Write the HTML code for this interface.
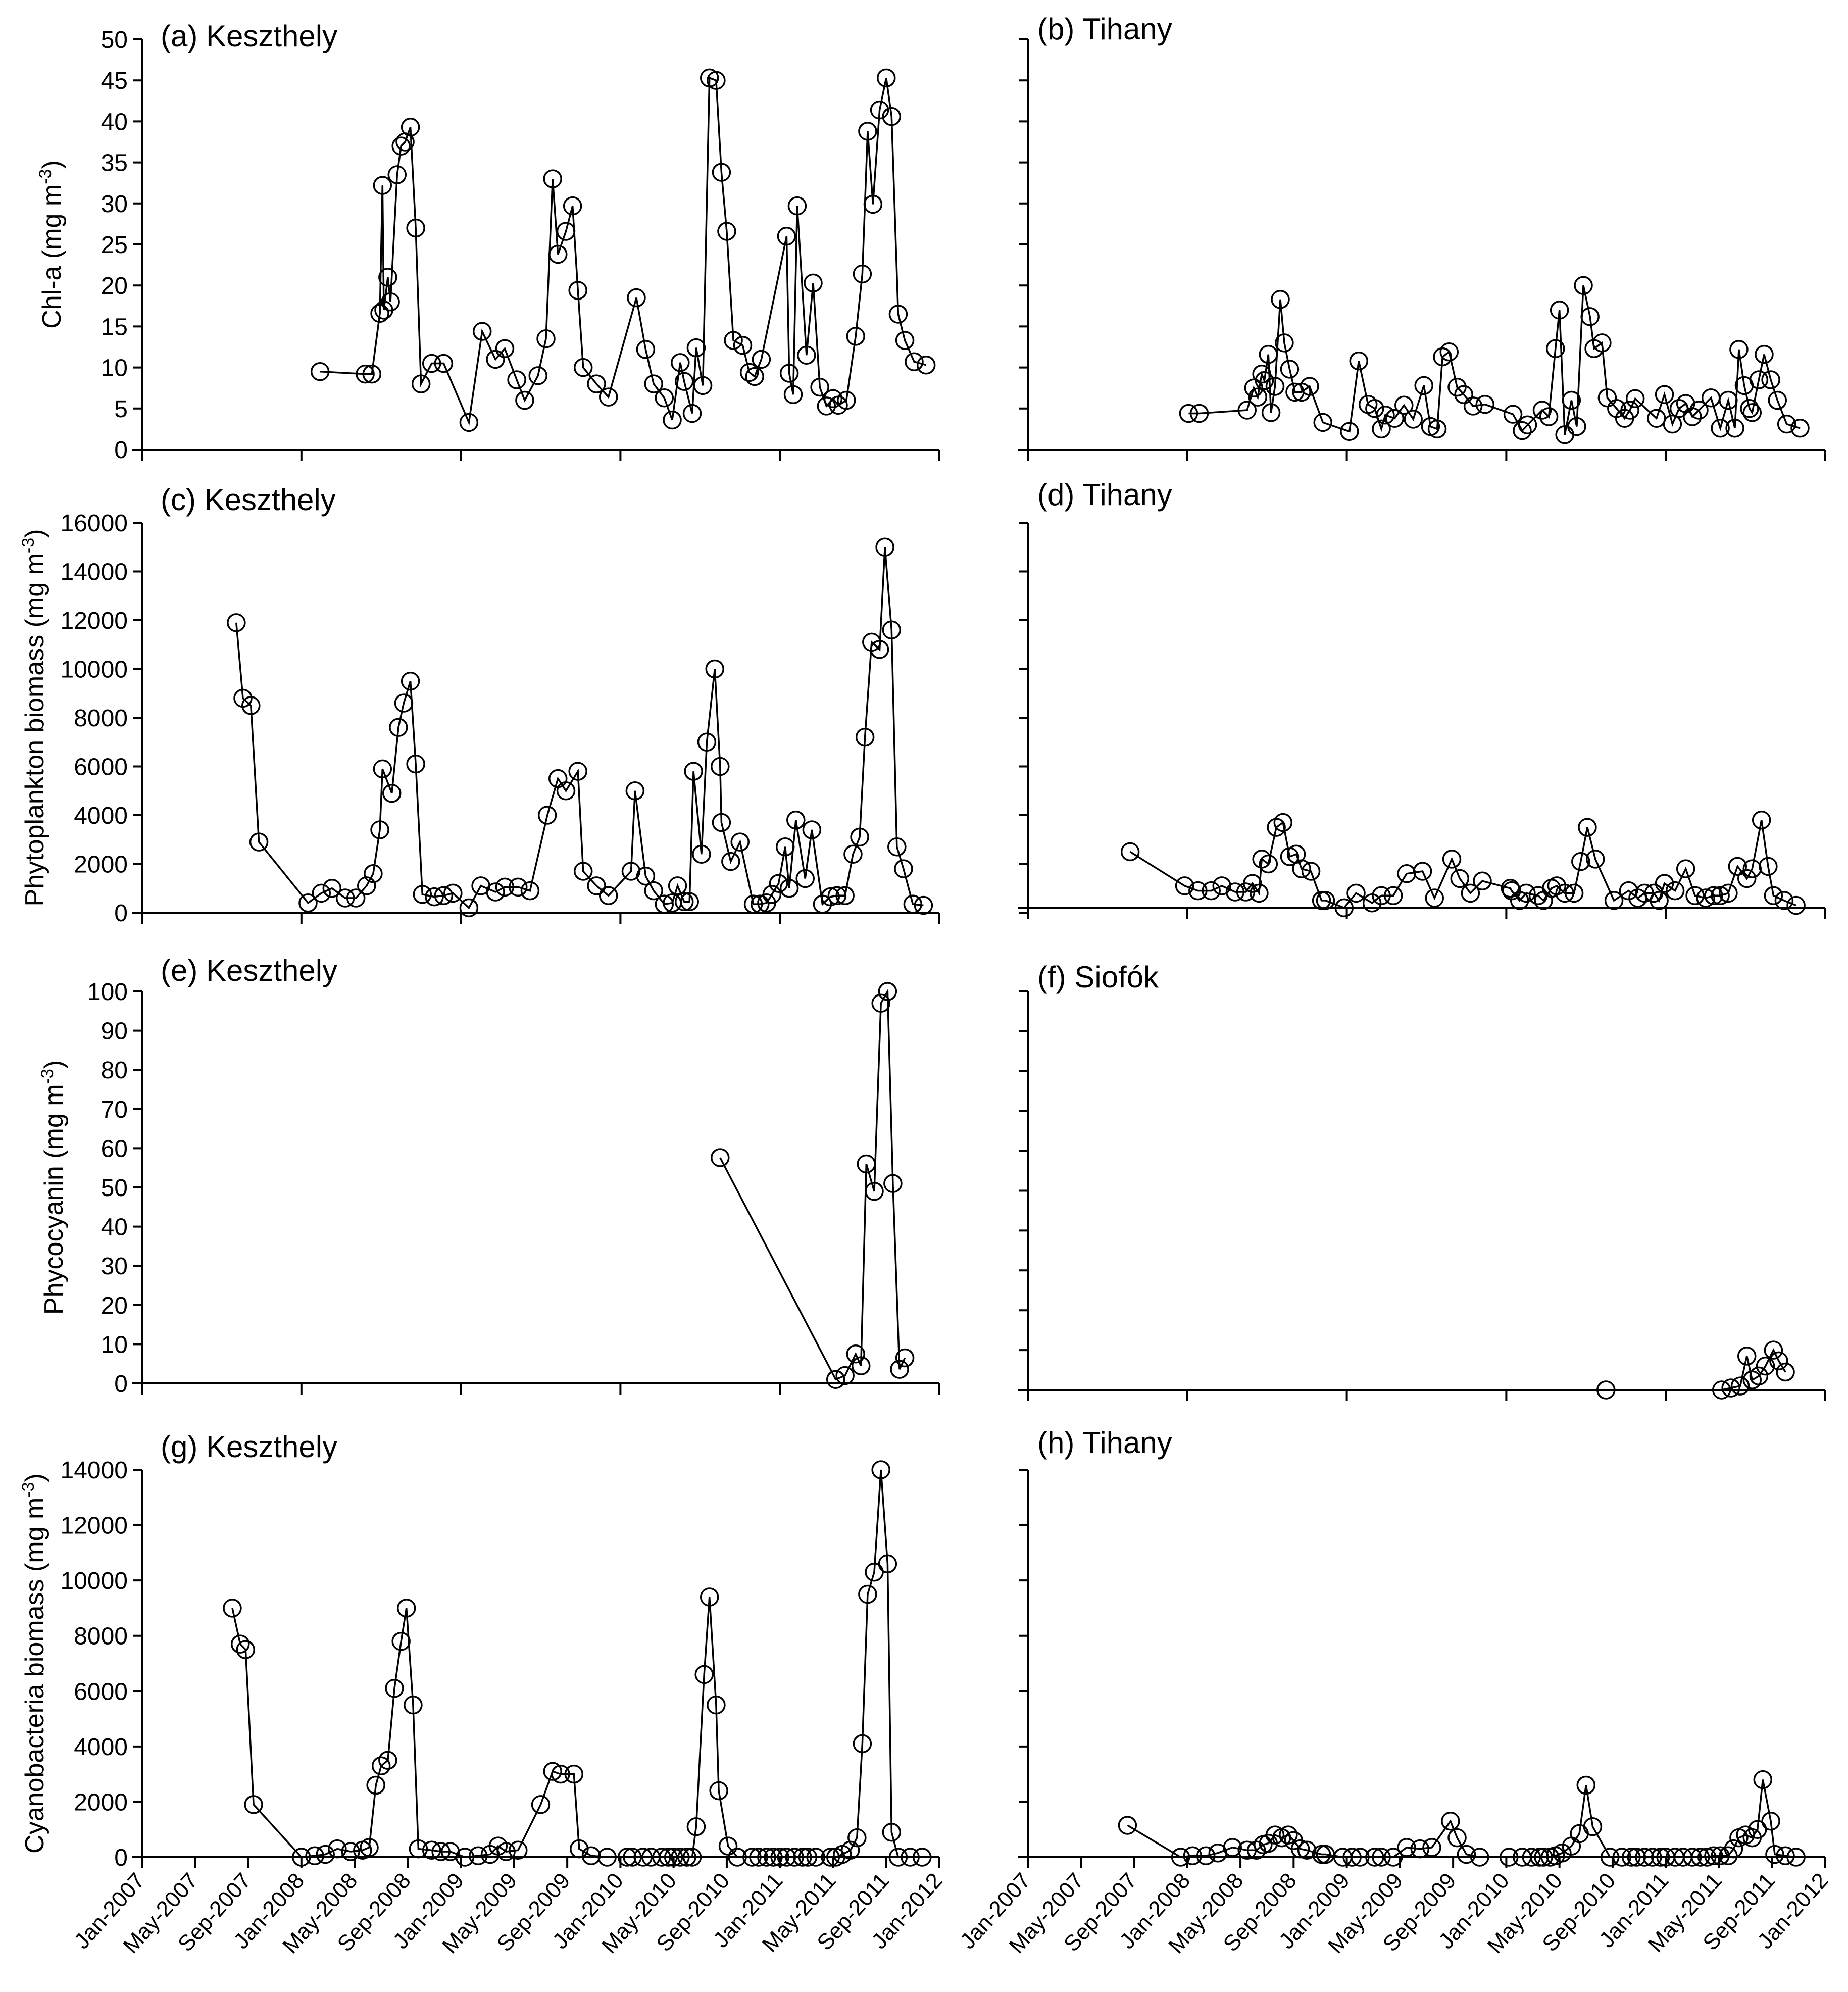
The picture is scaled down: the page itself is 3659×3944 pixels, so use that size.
<!DOCTYPE html>
<html><head><meta charset="utf-8"><style>
html,body{margin:0;padding:0;background:#fff}
svg{display:block}
text{font-family:"Liberation Sans",sans-serif;fill:#000}
</style></head><body>
<svg id="fig" width="3659" height="3944" viewBox="0 0 3659 3944" xmlns="http://www.w3.org/2000/svg"></svg>
<script>
// months since Jan-2007
const aX=[13.4,16.8,17.3,17.9,18.1,18.2,18.5,18.7,19.2,19.5,19.8,20.2,20.6,21.0,21.8,22.7,24.6,25.6,26.6,27.3,28.2,28.8,29.8,30.4,30.9,31.3,31.9,32.4,32.8,33.2,34.2,35.1,37.2,37.9,38.5,39.3,39.9,40.5,40.8,41.4,41.7,42.2,42.7,43.2,43.6,44.0,44.5,45.2,45.7,46.1,46.6,48.5,48.7,49.0,49.3,50.0,50.5,51.0,51.5,52.0,52.4,53.0,53.7,54.2,54.6,55.0,55.5,56.0,56.4,56.9,57.4,58.1,59.0];
const aY=[9.5,9.2,9.2,16.6,32.2,17,21,18,33.5,37,37.5,39.3,27,8,10.5,10.5,3.3,14.4,11,12.3,8.5,6,9,13.5,33,23.8,26.6,29.7,19.4,10,8,6.4,18.5,12.2,8,6.3,3.6,10.6,8.3,4.4,12.4,7.8,45.3,45,33.8,26.6,13.3,12.7,9.4,8.9,11,26,9.3,6.7,29.7,11.5,20.3,7.6,5.3,6.2,5.4,6,13.8,21.4,38.8,29.9,41.4,45.3,40.6,16.5,13.3,10.7,10.3];
const bX=[12.1,12.9,16.5,17.0,17.3,17.6,17.8,18.1,18.3,18.6,19.0,19.3,19.7,20.1,20.6,21.2,22.2,24.2,24.9,25.6,26.1,26.6,26.9,27.6,28.3,29.0,29.8,30.3,30.8,31.2,31.7,32.3,32.8,33.5,34.4,36.5,37.2,37.6,38.7,39.2,39.7,40.0,40.4,40.9,41.3,41.8,42.3,42.6,43.2,43.6,44.3,44.9,45.3,45.7,47.3,47.9,48.5,49.0,49.5,50.0,50.5,51.4,52.1,52.7,53.2,53.5,53.9,54.3,54.5,55.0,55.4,55.9,56.4,57.1,58.1];
const bY=[4.4,4.4,4.8,7.5,6.4,9.2,8.4,11.6,4.5,7.7,18.3,13,9.8,7,7,7.7,3.3,2.2,10.8,5.5,5,2.5,4.2,3.8,5.4,3.7,7.8,2.8,2.5,11.3,11.9,7.6,6.7,5.3,5.5,4.3,2.3,3,4.8,4,12.3,17,1.8,6,2.8,20,16.2,12.3,13,6.3,5,3.8,4.8,6.2,3.8,6.7,3.1,5,5.6,4,4.8,6.3,2.6,6,2.6,12.2,7.8,5,4.5,8.5,11.6,8.5,6,3.1,2.6];
const cX=[7.1,7.6,8.2,8.8,12.5,13.5,14.3,15.3,16.1,16.9,17.4,17.9,18.1,18.8,19.3,19.7,20.2,20.6,21.1,22.0,22.7,23.4,24.6,25.5,26.6,27.3,28.3,29.2,30.5,31.3,31.9,32.8,33.2,34.2,35.1,36.8,37.1,37.9,38.5,39.3,39.9,40.3,40.8,41.2,41.5,42.1,42.5,43.1,43.5,43.6,44.3,45.0,46.0,46.5,47.0,47.4,47.9,48.4,48.7,49.2,49.9,50.4,51.2,51.8,52.3,52.9,53.5,54.0,54.4,54.9,55.5,55.9,56.4,56.8,57.3,58.0,58.8];
const cY=[11900,8800,8500,2900,400,800,1000,600,600,1100,1600,3400,5900,4900,7600,8600,9500,6100,750,650,700,800,200,1100,850,1050,1050,900,4000,5500,5000,5800,1700,1100,700,1700,5000,1500,900,350,400,1100,450,450,5800,2400,7000,10000,6000,3700,2100,2900,350,350,400,750,1200,2700,1000,3800,1400,3400,350,650,700,700,2400,3100,7200,11100,10800,15000,11600,2700,1800,350,300];
const dX=[7.7,11.8,12.8,13.8,14.6,15.6,16.4,16.9,17.4,17.6,18.1,18.7,19.2,19.7,20.2,20.6,21.3,22.1,22.4,23.8,24.7,25.9,26.6,27.5,28.5,29.7,30.6,31.9,32.5,33.3,34.2,36.3,36.4,37.0,37.5,38.4,38.8,39.4,39.8,40.4,41.1,41.6,42.1,42.7,44.1,45.2,45.9,46.4,47.1,47.5,47.9,48.7,49.5,50.2,51.0,51.6,52.1,52.7,53.4,54.1,54.5,55.2,55.7,56.1,56.9,57.8];
const dY=[2500,1100,900,900,1100,850,850,1200,800,2200,2000,3500,3700,2300,2400,1800,1700,500,500,200,800,400,700,700,1600,1700,600,2200,1400,800,1300,1000,900,500,800,700,500,1000,1100,800,800,2100,3500,2200,500,900,600,800,800,500,1200,900,1800,700,600,700,700,800,1900,1400,1800,3800,1900,700,500,300];
const eX=[43.5,52.2,52.9,53.7,54.1,54.5,55.1,55.6,56.1,56.5,57.0,57.4];
const eY=[57.6,1,2,7.5,4.5,56,49,97,100,51,3.6,6.5];
const fX=[43.5,52.2,52.9,53.6,54.1,54.5,55.0,55.5,56.1,56.5,57.0];
const fY=[0,0,0.5,1,8.5,2.5,3.5,6,10,7.3,4.5];
const gX=[6.8,7.4,7.8,8.4,12.0,13.0,13.8,14.7,15.7,16.6,17.1,17.6,18.0,18.5,19.0,19.5,19.9,20.4,20.8,21.8,22.5,23.2,24.3,25.3,26.2,26.8,27.4,28.3,30.0,30.9,31.5,32.5,32.9,33.8,35.0,36.5,36.9,37.7,38.3,39.1,39.6,40.0,40.5,41.0,41.4,41.7,42.3,42.7,43.2,43.4,44.1,44.8,45.9,46.4,47.0,47.5,48.0,48.5,49.1,49.7,50.1,50.7,51.8,52.2,52.7,53.3,53.8,54.2,54.6,55.1,55.6,56.1,56.4,56.9,57.8,58.7];
const gY=[9000,7700,7500,1900,0,50,100,300,200,250,350,2600,3300,3500,6100,7800,9000,5500,300,250,200,200,0,50,100,400,200,250,1900,3100,3000,3000,300,50,0,0,0,0,0,0,0,0,0,0,0,1100,6600,9400,5500,2400,400,0,0,0,0,0,0,0,0,0,0,0,0,0,100,250,700,4100,9500,10300,14000,10600,900,0,0,0];
const hX=[7.5,11.5,12.4,13.4,14.3,15.4,16.5,17.2,17.7,18.1,18.6,19.1,19.6,20.0,20.5,21.0,22.1,22.4,23.7,24.4,25.0,26.1,26.6,27.5,28.5,29.5,30.4,31.8,32.3,33.0,34.0,36.2,37.2,37.9,38.5,38.8,39.3,39.7,40.2,40.9,41.5,42.0,42.5,43.8,44.7,45.4,45.8,46.4,47.0,47.6,48.0,48.7,49.3,50.0,50.6,51.1,51.6,52.1,52.7,53.1,53.5,54.0,54.5,54.9,55.3,55.9,56.2,57.0,57.8];
const hY=[1150,0,50,50,150,350,250,250,450,500,800,700,800,600,300,250,100,100,0,0,0,0,0,0,350,300,350,1300,700,100,0,0,0,0,0,0,0,50,150,400,850,2600,1100,0,0,0,0,0,0,0,0,0,0,0,0,0,50,50,50,300,700,800,700,1000,2800,1300,100,50,0];
const monthLabels=["Jan-2007","May-2007","Sep-2007","Jan-2008","May-2008","Sep-2008","Jan-2009","May-2009","Sep-2009","Jan-2010","May-2010","Sep-2010","Jan-2011","May-2011","Sep-2011","Jan-2012"];

const NS="http://www.w3.org/2000/svg";
const svg=document.getElementById('fig');
function mk(tag,attrs,parent){const e=document.createElementNS(NS,tag);for(const k in attrs)e.setAttribute(k,attrs[k]);(parent||svg).appendChild(e);return e;}

function panel(o){
  const g=mk('g',{});
  
  
  const x0=o.left,x1=o.left+1579;
  const sx=m=>x0+(x1-x0)*m/60;
  const sy=v=>o.bottom-(o.bottom-o.top)*v/o.max;
  const yb=o.axisY||o.bottom;
  const yax=mk('line',{x1:x0,y1:o.top,x2:x0,y2:yb,stroke:'#000','stroke-width':4},g);
  
  
  const xax=mk('line',{x1:x0-20,y1:yb,x2:x1,y2:yb,stroke:'#000','stroke-width':4},g);
  
  
  for(let v=0;v<=o.max+1e-9;v+=o.step){
    const y=sy(v);
    mk('line',{x1:x0-18,y1:y,x2:x0,y2:y,stroke:'#000','stroke-width':4},g);
    if(o.labels){const t=mk('text',{x:x0-28,y:y+17,'font-size':48,'text-anchor':'end'},g);t.textContent=v;
      
      }
  }
  const tstep=o.monthly?4:12;
  for(let m=0;m<=60;m+=tstep){mk('line',{x1:sx(m),y1:yb,x2:sx(m),y2:yb+22,stroke:'#000','stroke-width':4},g);}
  if(o.monthly){
    monthLabels.forEach((lab,i)=>{const x=sx(i*4)+8,y=yb+48;
      const t=mk('text',{x:x,y:y,'font-size':44,'text-anchor':'end',transform:`rotate(-48 ${x} ${y})`},g);
      t.textContent=lab;
      
      });
  }
  const pts=o.xs.map((m,i)=>sx(m).toFixed(1)+','+sy(o.ys[i]).toFixed(1)).join(' ');
  const pl=mk('polyline',{points:pts,fill:'none',stroke:'#000','stroke-width':3.5},g);
  
  
  o.xs.forEach((m,i)=>{const c=mk('circle',{cx:sx(m),cy:sy(o.ys[i]),r:17,fill:'none',stroke:'#000','stroke-width':3.5},g);
    
    });
  const tt=mk('text',{x:o.tx,y:o.ty,'font-size':60},g);tt.textContent=o.title;
  
  
  if(o.ytitle){const cy=(o.top+o.bottom)/2;
    const t=mk('text',{x:o.ytx,y:cy,'font-size':52,'text-anchor':'middle',transform:`rotate(-90 ${o.ytx} ${cy})`},g);
    t.innerHTML=o.ytitle;
    
    }
}
const L=281,R=2035;
const sup='(mg m<tspan baseline-shift="super" font-size="34">-3</tspan>)';
panel({name:'panel-a-keszthely-chla',left:L,top:78,bottom:890,max:50,step:5,labels:true,xs:aX,ys:aY,title:'(a) Keszthely',tx:318,ty:92,ytitle:'Chl-a '+sup,ytx:120});
panel({name:'panel-b-tihany-chla',left:R,top:78,bottom:890,max:50,step:5,labels:false,xs:bX,ys:bY,title:'(b) Tihany',tx:2054,ty:78});
panel({name:'panel-c-keszthely-phytoplankton',left:L,top:1035,bottom:1807,max:16000,step:2000,labels:true,xs:cX,ys:cY,title:'(c) Keszthely',tx:318,ty:1010,ytitle:'Phytoplankton biomass '+sup,ytx:86});
panel({name:'panel-d-tihany-phytoplankton',left:R,top:1035,bottom:1807,axisY:1797,max:16000,step:2000,labels:false,xs:dX,ys:dY,title:'(d) Tihany',tx:2054,ty:1000});
panel({name:'panel-e-keszthely-phycocyanin',left:L,top:1963,bottom:2739,max:100,step:10,labels:true,xs:eX,ys:eY,title:'(e) Keszthely',tx:318,ty:1942,ytitle:'Phycocyanin '+sup,ytx:124});
panel({name:'panel-f-siofok-phycocyanin',left:R,top:1963,bottom:2752,max:100,step:10,labels:false,xs:fX,ys:fY,title:'(f) Siofók',tx:2054,ty:1955});
panel({name:'panel-g-keszthely-cyanobacteria',left:L,top:2910,bottom:3677,max:14000,step:2000,labels:true,xs:gX,ys:gY,title:'(g) Keszthely',tx:318,ty:2885,monthly:true,ytitle:'Cyanobacteria  biomass '+sup,ytx:86});
panel({name:'panel-h-tihany-cyanobacteria',left:R,top:2910,bottom:3677,max:14000,step:2000,labels:false,xs:hX,ys:hY,title:'(h) Tihany',tx:2054,ty:2877,monthly:true});
</script>
</body></html>
